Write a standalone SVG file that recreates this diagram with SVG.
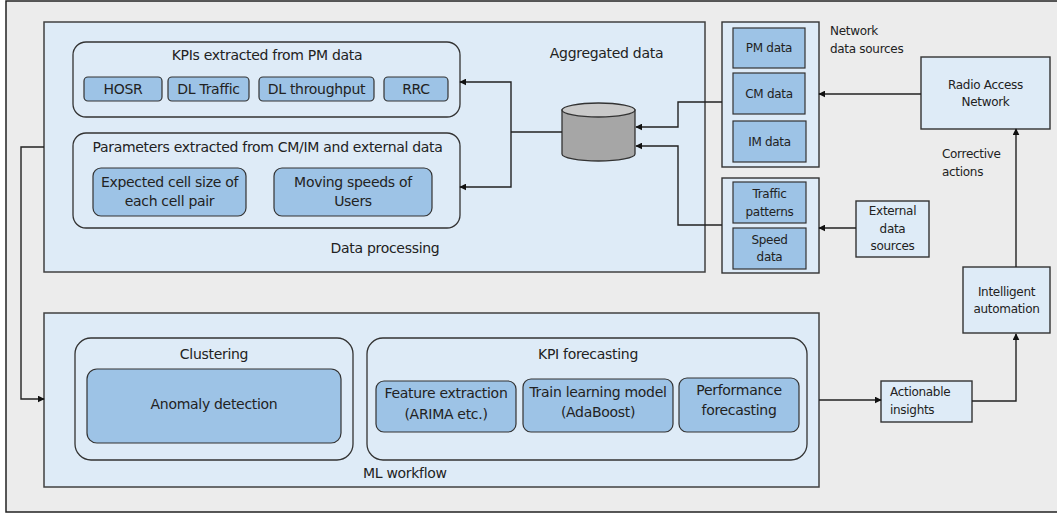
<svg xmlns="http://www.w3.org/2000/svg" width="1057" height="514" viewBox="0 0 1057 514">
<defs>
<marker id="ah" viewBox="0 0 10 10" refX="9" refY="5" markerWidth="7" markerHeight="7" markerUnits="userSpaceOnUse" orient="auto">
<path d="M0,0 L10,5 L0,10 z" fill="#111"/>
</marker>
<style>
text{font-family:"DejaVu Sans","Liberation Sans",sans-serif;fill:#222;letter-spacing:-0.3px}
.t14{font-size:14px}
.t12{font-size:12px}
.m{text-anchor:middle}
.panel{fill:#deebf7;stroke:#404040;stroke-width:1.5}
.cont{fill:#deebf7;stroke:#333;stroke-width:1.3}
.sub{fill:#9dc3e6;stroke:#333;stroke-width:1.2}
.box{fill:#deebf7;stroke:#333;stroke-width:1.4}
.conn path{fill:none;stroke:#222;stroke-width:1.4}
</style>
</defs>
<rect x="6" y="1" width="1060" height="511" fill="#ececec" stroke="#222" stroke-width="1.5"/>

<g id="data-processing">
<rect class="panel" x="44" y="22" width="661" height="250"/>
<text class="t14 m" x="385" y="253">Data processing</text>
</g>
<g id="kpis">
<rect class="cont" x="73" y="42" width="387" height="75" rx="13"/>
<text class="t14 m" x="267" y="60">KPIs extracted from PM data</text>
</g>
<g id="hosr"><rect class="sub" x="84" y="77" width="78" height="24" rx="4"/><text class="t14 m" x="123" y="94">HOSR</text></g>
<g id="dl-traffic"><rect class="sub" x="168" y="77" width="81" height="24" rx="4"/><text class="t14 m" x="208.5" y="94">DL Traffic</text></g>
<g id="dl-throughput"><rect class="sub" x="259" y="77" width="115" height="24" rx="4"/><text class="t14 m" x="316.5" y="94">DL throughput</text></g>
<g id="rrc"><rect class="sub" x="384" y="77" width="64" height="24" rx="4"/><text class="t14 m" x="416" y="94">RRC</text></g>
<g id="params">
<rect class="cont" x="73" y="133" width="387" height="95" rx="13"/>
<text class="t14 m" x="267.5" y="152" letter-spacing="-0.55">Parameters extracted from CM/IM and external data</text>
</g>
<g id="cell-size"><rect class="sub" x="93" y="168" width="153" height="48" rx="8"/><text class="t14 m" x="169.5" y="187">Expected cell size of</text><text class="t14 m" x="169.5" y="206">each cell pair</text></g>
<g id="speeds"><rect class="sub" x="274" y="168" width="158" height="48" rx="8"/><text class="t14 m" x="353" y="187">Moving speeds of</text><text class="t14 m" x="353" y="206">Users</text></g>
<g id="aggregated">
<text class="t14 m" x="606.5" y="58">Aggregated data</text>
<path d="M562,110 V154 A36.5,7 0 0 0 635,154 V110 z" fill="#a6a6a6" stroke="#333" stroke-width="1.3"/>
<ellipse cx="598.5" cy="110" rx="36.5" ry="7" fill="#c9c9c9" stroke="#333" stroke-width="1.3"/>
</g>
<g id="network-sources">
<rect class="box" x="722" y="22" width="97" height="145"/>
<text class="t12" x="830" y="35">Network</text>
<text class="t12" x="830" y="53">data sources</text>
</g>
<g id="pm-data"><rect class="sub" x="733" y="28" width="72" height="40"/><text class="t12 m" x="769" y="52">PM data</text></g>
<g id="cm-data"><rect class="sub" x="733" y="73" width="72" height="41"/><text class="t12 m" x="769" y="98">CM data</text></g>
<g id="im-data"><rect class="sub" x="733" y="121" width="73" height="41"/><text class="t12 m" x="769.5" y="146">IM data</text></g>
<g id="ext-group"><rect class="box" x="722" y="178" width="97" height="95"/></g>
<g id="traffic-patterns"><rect class="sub" x="733" y="182" width="73" height="41"/><text class="t12 m" x="769.5" y="198">Traffic</text><text class="t12 m" x="769.5" y="216">patterns</text></g>
<g id="speed-data"><rect class="sub" x="733" y="228" width="73" height="41"/><text class="t12 m" x="769.5" y="244">Speed</text><text class="t12 m" x="769.5" y="261">data</text></g>
<g id="external"><rect class="box" x="856" y="201" width="73" height="56"/><text class="t12 m" x="892.5" y="215">External</text><text class="t12 m" x="892.5" y="233">data</text><text class="t12 m" x="892.5" y="250">sources</text></g>
<g id="ran"><rect class="box" x="921" y="57" width="129" height="72"/><text class="t12 m" x="985.5" y="89">Radio Access</text><text class="t12 m" x="985.5" y="106">Network</text></g>
<g id="corrective"><text class="t12" x="942" y="158">Corrective</text><text class="t12" x="942" y="176">actions</text></g>
<g id="intelligent"><rect class="box" x="963" y="267" width="87" height="66"/><text class="t12 m" x="1006.5" y="296">Intelligent</text><text class="t12 m" x="1006.5" y="313">automation</text></g>
<g id="actionable"><rect class="box" x="881" y="381" width="91" height="41"/><text class="t12" x="890" y="396">Actionable</text><text class="t12" x="890" y="414">insights</text></g>

<g id="ml-workflow">
<rect class="panel" x="44" y="313" width="775" height="174"/>
<text class="t14" x="363" y="478">ML workflow</text>
</g>
<g id="clustering">
<rect class="cont" x="75" y="338" width="278" height="122" rx="16"/>
<text class="t14 m" x="214" y="359">Clustering</text>
</g>
<g id="anomaly"><rect class="sub" x="87" y="369" width="254" height="74" rx="10"/><text class="t14 m" x="214" y="409">Anomaly detection</text></g>
<g id="kpi-forecasting">
<rect class="cont" x="367" y="338" width="440" height="122" rx="16"/>
<text class="t14 m" x="588" y="359">KPI forecasting</text>
</g>
<g id="feature"><rect class="sub" x="376" y="381" width="140" height="51" rx="8"/><text class="t14 m" x="446" y="398">Feature extraction</text><text class="t14 m" x="446" y="419">(ARIMA etc.)</text></g>
<g id="train"><rect class="sub" x="523" y="379" width="150" height="53" rx="8"/><text class="t14 m" x="598" y="397" letter-spacing="-0.45">Train learning model</text><text class="t14 m" x="598" y="417">(AdaBoost)</text></g>
<g id="perf"><rect class="sub" x="679" y="378" width="120" height="54" rx="8"/><text class="t14 m" x="739" y="395">Performance</text><text class="t14 m" x="739" y="415">forecasting</text></g>

<g id="connectors" class="conn">
<path d="M562,132 H511"/>
<path d="M511,132 V82 H460" marker-end="url(#ah)"/>
<path d="M511,132 V187 H460" marker-end="url(#ah)"/>
<path d="M722,102 H678 V127 H636" marker-end="url(#ah)"/>
<path d="M722,225 H678 V146 H636" marker-end="url(#ah)"/>
<path d="M921,94 H819" marker-end="url(#ah)"/>
<path d="M856,228 H819" marker-end="url(#ah)"/>
<path d="M1016,267 V129" marker-end="url(#ah)"/>
<path d="M972,401 H1016 V334" marker-end="url(#ah)"/>
<path d="M819,400 H881" marker-end="url(#ah)"/>
<path d="M44,147 H21 V399 H44" marker-end="url(#ah)"/>
</g>
</svg>
